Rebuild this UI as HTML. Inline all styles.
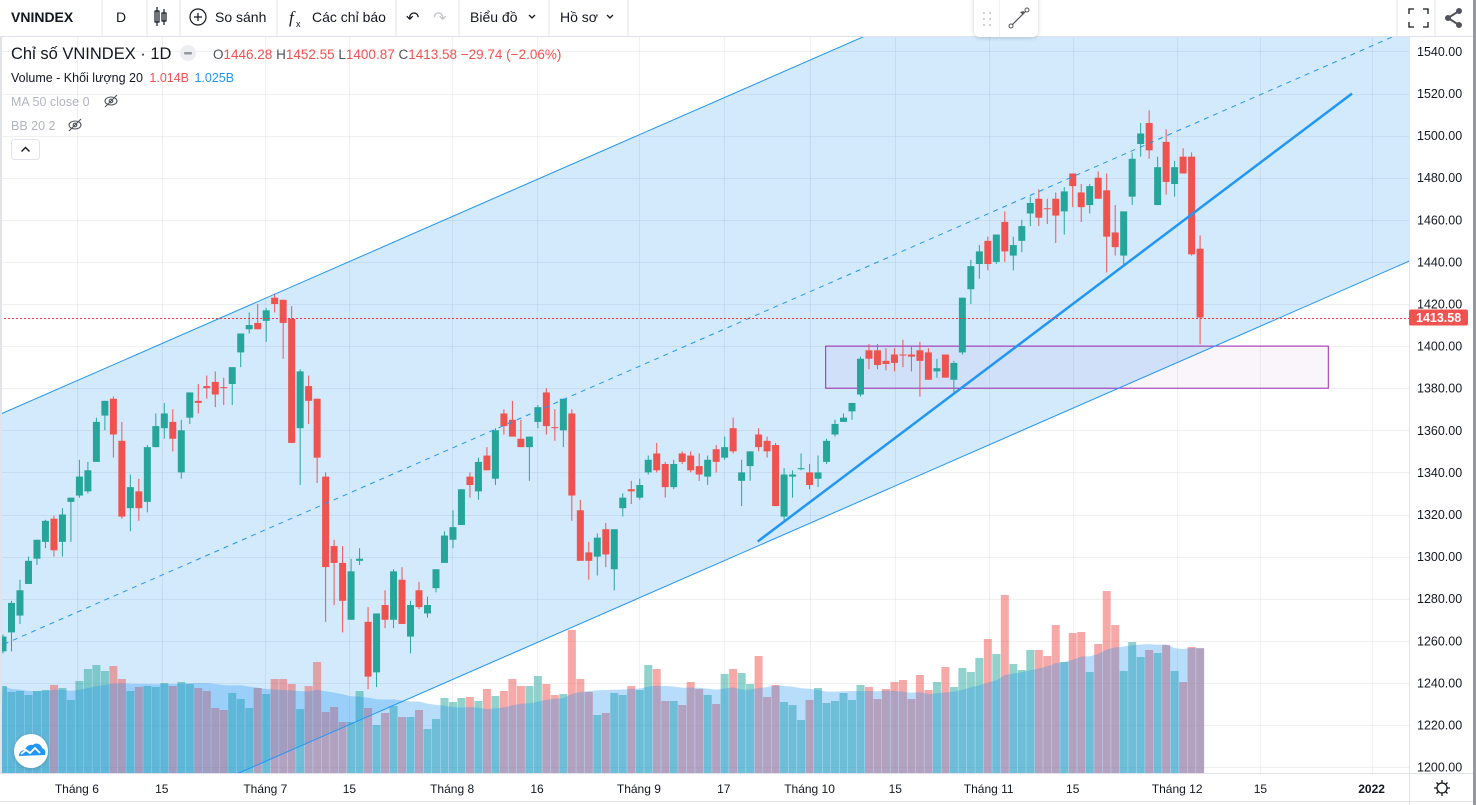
<!DOCTYPE html>
<html><head><meta charset="utf-8">
<style>
html,body{margin:0;padding:0;background:#fff;overflow:hidden;width:1476px;height:805px}
#wrap{position:relative;width:1476px;height:805px;overflow:hidden}
svg{display:block;font-family:"Liberation Sans","Noto Sans CJK JP",sans-serif}
</style></head>
<body>
<div id="wrap">
<svg id="chart" width="1476" height="805" viewBox="0 0 1476 805" style="position:absolute;left:0;top:0" xmlns="http://www.w3.org/2000/svg">
<defs>
<clipPath id="plotClip"><rect x="0" y="37" width="1409" height="736"/></clipPath>
<filter id="shadow" x="-20%" y="-20%" width="140%" height="160%"><feDropShadow dx="0" dy="1" stdDeviation="2" flood-color="#000" flood-opacity="0.18"/></filter>
</defs>
<rect x="0" y="0" width="1476" height="805" fill="#fff"/>
<g id="plot" clip-path="url(#plotClip)"></g>
<g id="axes"></g>
</svg>
<script>
// ---- data ----
const opens=[1255,1264,1272,1287,1299,1307,1318,1307,1326,1329,1331,1345,1367,1375,1355,1323,1331,1326,1352,1361,1364,1340,1366,1374,1381,1383,1380.5,1382,1397,1408,1411,1412,1423,1422,1413,1361,1381,1375,1338,1305,1297,1270,1298,1269,1245,1277,1270,1289,1262,1284,1273,1285,1297,1308,1315,1338,1331,1348,1337,1368,1365,1356,1352,1364,1378,1361.5,1360,1368,1322,1302,1300,1313,1294,1323,1332,1328,1340,1349,1344,1333,1349,1348,1343,1338,1351,1347,1361,1336,1343,1358,1355,1353,1319,1338,1341.5,1340,1337,1345,1358,1364,1369,1377,1398,1398,1393,1396,1396,1396,1398,1397,1388,1396,1384,1397,1427,1439,1450,1440,1459,1443,1450,1463,1470,1465.5,1470,1464,1482,1473,1467,1480,1474,1454,1443,1471,1496,1506,1467,1497,1477,1490,1490,1446.28];
const highs=[1263,1279,1289,1300,1308,1317.5,1319.5,1323,1328,1346,1345,1366,1374,1376,1364,1339,1337,1353,1368,1373,1370,1365,1378,1382,1386,1388,1385,1390,1406,1416,1420,1418,1425,1422,1419,1389,1386,1375,1340,1308,1305,1299,1304,1276,1273,1284,1294,1295,1279,1288,1281,1294,1312,1322,1332,1340,1347,1352,1361,1370,1374,1365,1357,1372,1380,1370,1375,1370,1327,1307,1311,1316,1313,1330,1336,1337,1348,1354,1345,1346,1350,1350,1349,1348,1353,1357,1366,1346,1350,1361,1357,1354,1342,1341,1349,1344,1348,1356,1365,1368,1373,1395,1401,1401,1399,1399,1403,1400,1402,1399,1394,1396,1393,1423,1441,1448,1452,1453,1464,1452,1460,1471,1474.5,1470,1473,1475.5,1482,1477,1477,1483,1482,1467,1464,1492,1506,1512,1490,1503,1488,1494,1492,1452.55];
const lows=[1254,1255,1268,1287,1296,1304,1300,1300,1307,1328,1330,1345,1360,1347,1318,1312,1317,1321,1352,1356,1350,1337,1363,1368,1375,1371,1372,1372,1390,1406,1408,1402,1416,1394,1354,1334,1363,1335,1269,1277,1264,1270,1296,1237,1238,1266,1266,1268,1254,1275,1271,1283,1297,1304,1315,1328,1327,1341,1334,1358,1357,1352,1336,1361,1358,1355,1352,1317,1298,1289,1291,1295,1284,1319,1325,1327,1339,1340,1328,1332,1344,1340,1336,1334,1340,1346,1349,1324,1336,1350,1347,1324,1316,1328,1341,1332,1333,1344,1357,1364,1365,1376,1389,1389,1388.5,1388,1390,1388,1376,1384,1385,1385,1378,1396,1420,1432,1436,1439,1440,1436,1444.6,1457,1457,1458,1449,1453,1466,1459,1463,1470,1435,1443,1438,1467,1490,1489,1467,1472,1471,1482,1443,1400.87];
const closes=[1262,1278,1284,1298,1308,1317,1303,1320,1328,1338,1341,1364,1374,1358,1319,1333,1323,1352,1362,1368,1356,1360,1378,1373,1380,1377,1380,1390,1406,1410,1408,1417,1420,1411,1354,1388,1374,1347,1295,1297,1279,1293,1299,1243,1273,1270,1293,1268,1277,1276,1277,1294,1310,1314,1332,1334,1345,1341,1360,1362,1357,1352,1357,1371,1362,1361,1375,1329,1298,1298,1309,1301,1313,1328,1331,1334,1346,1341,1333,1344,1345,1341,1339,1346,1345,1352,1350,1340,1350,1352,1350,1324,1339,1339,1342,1334,1340,1355,1363,1366,1373,1394,1394,1391,1391.5,1392,1395.5,1395,1393,1384,1389.5,1385,1392,1423,1438,1445,1439,1453,1445,1448,1457,1468,1461,1465,1462,1473.5,1476,1466,1476,1470,1452,1447,1464,1489,1501,1493,1485,1478,1485,1482,1443.6,1413.58];
const volumes=[712,664,672,640,672,680,720,696,600,752,848,880,832,872,768,672,704,712,704,736,712,744,728,696,672,536,520,656,608,536,696,648,768,768,728,528,712,904,504,544,424,424,672,536,400,496,552,464,464,520,368,448,616,584,616,624,592,688,632,672,768,712,712,792,728,640,648,1160,768,664,480,496,656,640,712,680,880,848,592,592,560,744,688,640,568,808,848,816,728,952,624,720,584,560,440,600,696,576,592,656,600,720,704,608,688,744,760,608,800,680,744,864,704,856,824,936,1088,968,1440,888,840,1000,1000,952,1200,904,1136,1144,824,1048,1472,1200,832,1064,944,1000,976,1040,832,744,1024,1014];
const priceTicks=[1540,1520,1500,1480,1460,1440,1420,1400,1380,1360,1340,1320,1300,1280,1260,1240,1220,1200];
const timeLabels=["Tháng 6","15","Tháng 7","15","Tháng 8","16","Tháng 9","17","Tháng 10","15","Tháng 11","15","Tháng 12","15","2022"];
const timeLabelIdx=[8.7,18.7,30.9,40.8,52.9,62.9,74.9,84.9,95,105.1,116.1,126,138.3,148.1,161.2];
// drawings in (bar index, price)
const channelUpper=[[0,1368.2],[100,1544.6]];
const channelWidth=220;
const trendLine=[[88.9,1307.2],[158.9,1520]];
const zoneIdx=[96.9,156.1];
const zonePrice=[1400,1380];
const lastPrice=1413.58;

// ---- scales ----
const plotR=1409, plotB=773;
function xC(i){return 3+i*8.49;}
function yP(p){return 51.4+(1540-p)*2.105;}
function yV(v){return 775-v/8;}
const NS="http://www.w3.org/2000/svg";
function mk(tag,attrs,parent){const e=document.createElementNS(NS,tag);for(const k in attrs)e.setAttribute(k,attrs[k]);if(parent)parent.appendChild(e);return e;}
const plot=document.getElementById('plot'), axes=document.getElementById('axes');

function chY(idx,off){const [a,b]=channelUpper;const p=a[1]+(b[1]-a[1])*(idx-a[0])/(b[0]-a[0])-off;return yP(p);}
const iL=-1, iR=(plotR-3)/8.49+1;
const fill=mk('polygon',{points:`${xC(iL)},${chY(iL,0)} ${xC(iR)},${chY(iR,0)} ${xC(iR)},${chY(iR,channelWidth)} ${xC(iL)},${chY(iL,channelWidth)}`,fill:'rgba(33,150,243,0.2)'},plot);



priceTicks.forEach(p=>{const y=Math.round(yP(p))+0.5;const g=mk('line',{x1:0,x2:plotR,y1:y,y2:y,stroke:'rgba(42,46,80,0.07)','stroke-width':1},plot);

});
timeLabelIdx.forEach(i=>{const x=Math.round(xC(i))+0.5;const g=mk('line',{x1:x,x2:x,y1:37,y2:plotB,stroke:'rgba(42,46,80,0.07)','stroke-width':1},plot);

});

const zr=mk('rect',{x:xC(zoneIdx[0]),y:yP(zonePrice[0]),width:xC(zoneIdx[1])-xC(zoneIdx[0]),height:yP(zonePrice[1])-yP(zonePrice[0]),fill:'rgba(156,39,176,0.05)',stroke:'#9c27b0','stroke-width':1},plot);



volumes.forEach((v,i)=>{const up=closes[i]>=opens[i];
const b=mk('rect',{x:xC(i)-4,y:yV(v),width:8,height:plotB-yV(v),fill:up?'rgba(38,166,154,0.5)':'rgba(239,83,80,0.5)'},plot);

});
const ma=[];volumes.forEach((v,i)=>{const s=volumes.slice(Math.max(0,i-19),i+1);ma.push(s.reduce((a,b)=>a+b,0)/s.length);});
let d=`M${xC(0)-4},${plotB}`;ma.forEach((m,i)=>{d+=` L${xC(i)},${yV(m)}`;});d+=` L${xC(ma.length-1)+4},${yV(ma[ma.length-1])} L${xC(ma.length-1)+4},${plotB} Z`;
const maA=mk('path',{d:d,fill:'rgba(33,150,243,0.32)'},plot);



opens.forEach((o,i)=>{const c=closes[i],up=c>=o,col=up?'#26a69a':'#ef5350',x=xC(i);
const g=mk('g',{},plot);


mk('line',{x1:x,x2:x,y1:yP(highs[i]),y2:yP(lows[i]),stroke:col,'stroke-width':1},g);
const t=yP(Math.max(o,c)),b=yP(Math.min(o,c));
mk('rect',{x:x-3.5,y:t,width:7,height:Math.max(1,b-t),fill:col},g);});

[[0,'upper'],[channelWidth/2,'middle'],[channelWidth,'lower']].forEach(([off,nm])=>{
const l=mk('line',{x1:xC(iL),y1:chY(iL,off),x2:xC(iR),y2:chY(iR,off),stroke:'#2196f3','stroke-width':1},plot);
if(nm==='middle')l.setAttribute('stroke-dasharray','5,5');

});
const tl=mk('line',{x1:xC(trendLine[0][0]),y1:yP(trendLine[0][1]),x2:xC(trendLine[1][0]),y2:yP(trendLine[1][1]),stroke:'#2196f3','stroke-width':2.5},plot);


const ly=Math.round(yP(lastPrice))+0.5;
const pl=mk('line',{x1:0,x2:plotR,y1:ly,y2:ly,stroke:'#f23645','stroke-width':1,'stroke-dasharray':'2,2'},plot);



mk('line',{x1:plotR+0.5,x2:plotR+0.5,y1:37,y2:805,stroke:'#e0e3eb'},axes);
mk('line',{x1:0,x2:1473,y1:plotB+0.5,y2:plotB+0.5,stroke:'#e0e3eb'},axes);
mk('rect',{x:1473,y:0,width:3,height:805,fill:'#9598a1'},axes);
mk('rect',{x:0,y:37,width:2,height:736,fill:'#e0e3eb'},axes);
mk('line',{x1:0,x2:1473,y1:801.5,y2:801.5,stroke:'#e0e3eb'},axes);
priceTicks.forEach(p=>{const t=mk('text',{x:1417,y:yP(p)+4.5,'font-size':12.5,fill:'#131722'},axes);t.textContent=p.toFixed(2);

});
const pb=mk('rect',{x:plotR,y:yP(lastPrice)-8,width:59,height:16,rx:2,fill:'#ef5350'},axes);


const pt=mk('text',{x:1416,y:yP(lastPrice)+4.5,'font-size':12.5,'font-weight':'bold',fill:'#fff'},axes);pt.textContent=lastPrice.toFixed(2);


timeLabels.forEach((s,k)=>{const t=mk('text',{x:xC(timeLabelIdx[k]),y:793,'font-size':12,'text-anchor':'middle',fill:'#131722','font-weight':s==='2022'?'bold':'normal'},axes);t.textContent=s;

});
</script>
<svg width="1476" height="805" viewBox="0 0 1476 805" style="position:absolute;left:0;top:0;pointer-events:none;font-family:'Liberation Sans','Noto Sans CJK JP',sans-serif" xmlns="http://www.w3.org/2000/svg">
<defs><filter id="shadow2" x="-20%" y="-20%" width="140%" height="160%"><feDropShadow dx="0" dy="1" stdDeviation="2" flood-color="#000" flood-opacity="0.18"/></filter></defs>
<g><circle cx="1442" cy="788" r="5" fill="none" stroke="#131722" stroke-width="1.3"/><path d="M1442 780v3M1442 793v3M1434 788h3M1447 788h3M1436.5 782.5l2 2M1445.5 791.5l2 2M1436.5 793.5l2-2M1445.5 784.5l2-2" stroke="#131722" stroke-width="1.3"/></g>
<g>
<rect x="0" y="0" width="1473" height="36" fill="#fff"/>
<line x1="0" x2="1473" y1="36.5" y2="36.5" stroke="#e0e3eb"/>
<g stroke="#e0e3eb"><line x1="102" x2="102" y1="0" y2="36"/><line x1="147" x2="147" y1="0" y2="36"/><line x1="180" x2="180" y1="0" y2="36"/><line x1="277" x2="277" y1="0" y2="36"/><line x1="396" x2="396" y1="0" y2="36"/><line x1="459" x2="459" y1="0" y2="36"/><line x1="549" x2="549" y1="0" y2="36"/><line x1="628" x2="628" y1="0" y2="36"/><line x1="1397" x2="1397" y1="0" y2="36"/><line x1="1435" x2="1435" y1="0" y2="36"/></g>
<text x="11" y="22" font-size="14" font-weight="bold" fill="#131722">VNINDEX</text>
<text x="116" y="22" font-size="14" fill="#131722">D</text>
<g stroke="#131722" fill="none" stroke-width="1.2"><rect x="155" y="11" width="4" height="11"/><line x1="157" x2="157" y1="7" y2="26"/><rect x="162" y="13" width="4" height="8"/><line x1="164" x2="164" y1="9" y2="25"/></g>
<g><circle cx="198" cy="17" r="8" fill="none" stroke="#131722" stroke-width="1.2"/><path d="M198 13v8M194 17h8" stroke="#131722" stroke-width="1.2"/><text x="215" y="22" font-size="14" fill="#131722">So sánh</text></g>
<g><text x="289" y="23" font-size="17" font-style="italic" font-family="Liberation Serif,serif" fill="#131722">f</text><text x="296" y="27" font-size="9" fill="#131722">x</text><text x="312" y="22" font-size="14" fill="#131722">Các chỉ báo</text></g>
<text x="406" y="23" font-size="16" fill="#131722">↶</text>
<text x="433" y="23" font-size="16" fill="#c1c4cd">↷</text>
<g><text x="470" y="22" font-size="14" fill="#131722">Biểu đồ</text><path d="M529 15l3 3 3-3" fill="none" stroke="#131722" stroke-width="1.3"/></g>
<g><text x="560" y="22" font-size="14" fill="#131722">Hồ sơ</text><path d="M607 15l3 3 3-3" fill="none" stroke="#131722" stroke-width="1.3"/></g>
<g stroke="#131722" fill="none" stroke-width="1.3"><path d="M1409 14v-5h5M1423 9h5v5M1428 22v5h-5M1414 27h-5v-5"/></g>
<g fill="#50535e"><circle cx="1448" cy="18" r="3"/><circle cx="1459" cy="11" r="3"/><circle cx="1459" cy="25" r="3"/><path d="M1448 18L1459 11M1448 18L1459 25" stroke="#50535e" stroke-width="2"/></g>
</g>
<g>
<rect x="974" y="-6" width="64" height="43" rx="6" fill="#fff" filter="url(#shadow2)"/>
<line x1="999.5" x2="999.5" y1="0" y2="37" stroke="#eef0f3"/>
<g fill="#c1c4cd"><circle cx="984" cy="13" r="1"/><circle cx="990" cy="13" r="1"/><circle cx="984" cy="19" r="1"/><circle cx="990" cy="19" r="1"/><circle cx="984" cy="25" r="1"/><circle cx="990" cy="25" r="1"/></g>
<line x1="1011" y1="26" x2="1027" y2="10" stroke="#50535e" stroke-width="1.2"/><circle cx="1011" cy="26" r="2" fill="#fff" stroke="#50535e"/><circle cx="1027" cy="10" r="2" fill="#fff" stroke="#50535e"/><path d="M1024 11l-4 1 3 3z" fill="#50535e"/>
</g>
<g>
<text x="11" y="59" font-size="16.5" fill="#131722">Chỉ số VNINDEX · 1D</text>
<circle cx="188" cy="53" r="8" fill="#eceef2"/><rect x="184" y="52" width="8" height="2.5" rx="1" fill="#9598a1"/>
<text x="213" y="59" font-size="13.5" fill="#ef5350"><tspan fill="#50535e">O</tspan>1446.28 <tspan fill="#50535e">H</tspan>1452.55 <tspan fill="#50535e">L</tspan>1400.87 <tspan fill="#50535e">C</tspan>1413.58 −29.74 (−2.06%)</text>
<text x="11" y="82" font-size="12.5" fill="#131722">Volume - Khối lượng 20 <tspan dx="3" fill="#ef5350">1.014B</tspan> <tspan dx="2" fill="#2196f3">1.025B</tspan></text>
<text x="11" y="106" font-size="12.5" fill="#b2b5be">MA 50 close 0</text>
<g stroke="#50535e" fill="none" stroke-width="1.1"><ellipse cx="111" cy="101" rx="6" ry="4"/><circle cx="111" cy="101" r="1.8"/><line x1="105" y1="107" x2="117" y2="95"/></g>
<text x="11" y="130" font-size="12.5" fill="#b2b5be">BB 20 2</text>
<g stroke="#50535e" fill="none" stroke-width="1.1"><ellipse cx="75" cy="125" rx="6" ry="4"/><circle cx="75" cy="125" r="1.8"/><line x1="69" y1="131" x2="81" y2="119"/></g>
<g><rect x="11.5" y="139.5" width="28" height="20" rx="3" fill="#fff" stroke="#e0e3eb"/><path d="M21.5 151.5l4-4 4 4" fill="none" stroke="#131722" stroke-width="1.4"/></g>
</g>
<g><circle cx="31" cy="751" r="17" fill="#fff" filter="url(#shadow2)"/><path d="M19 756c0-4 3-6 6-6 1-4 5-6 8-5 3-3 8-1 9 3 3 1 4 4 3 7z" fill="#2196f3"/><path d="M21 754l5-4 4 3 5-5 5 5" fill="none" stroke="#fff" stroke-width="1.8"/></g>
</svg>
</div>
</body></html>
